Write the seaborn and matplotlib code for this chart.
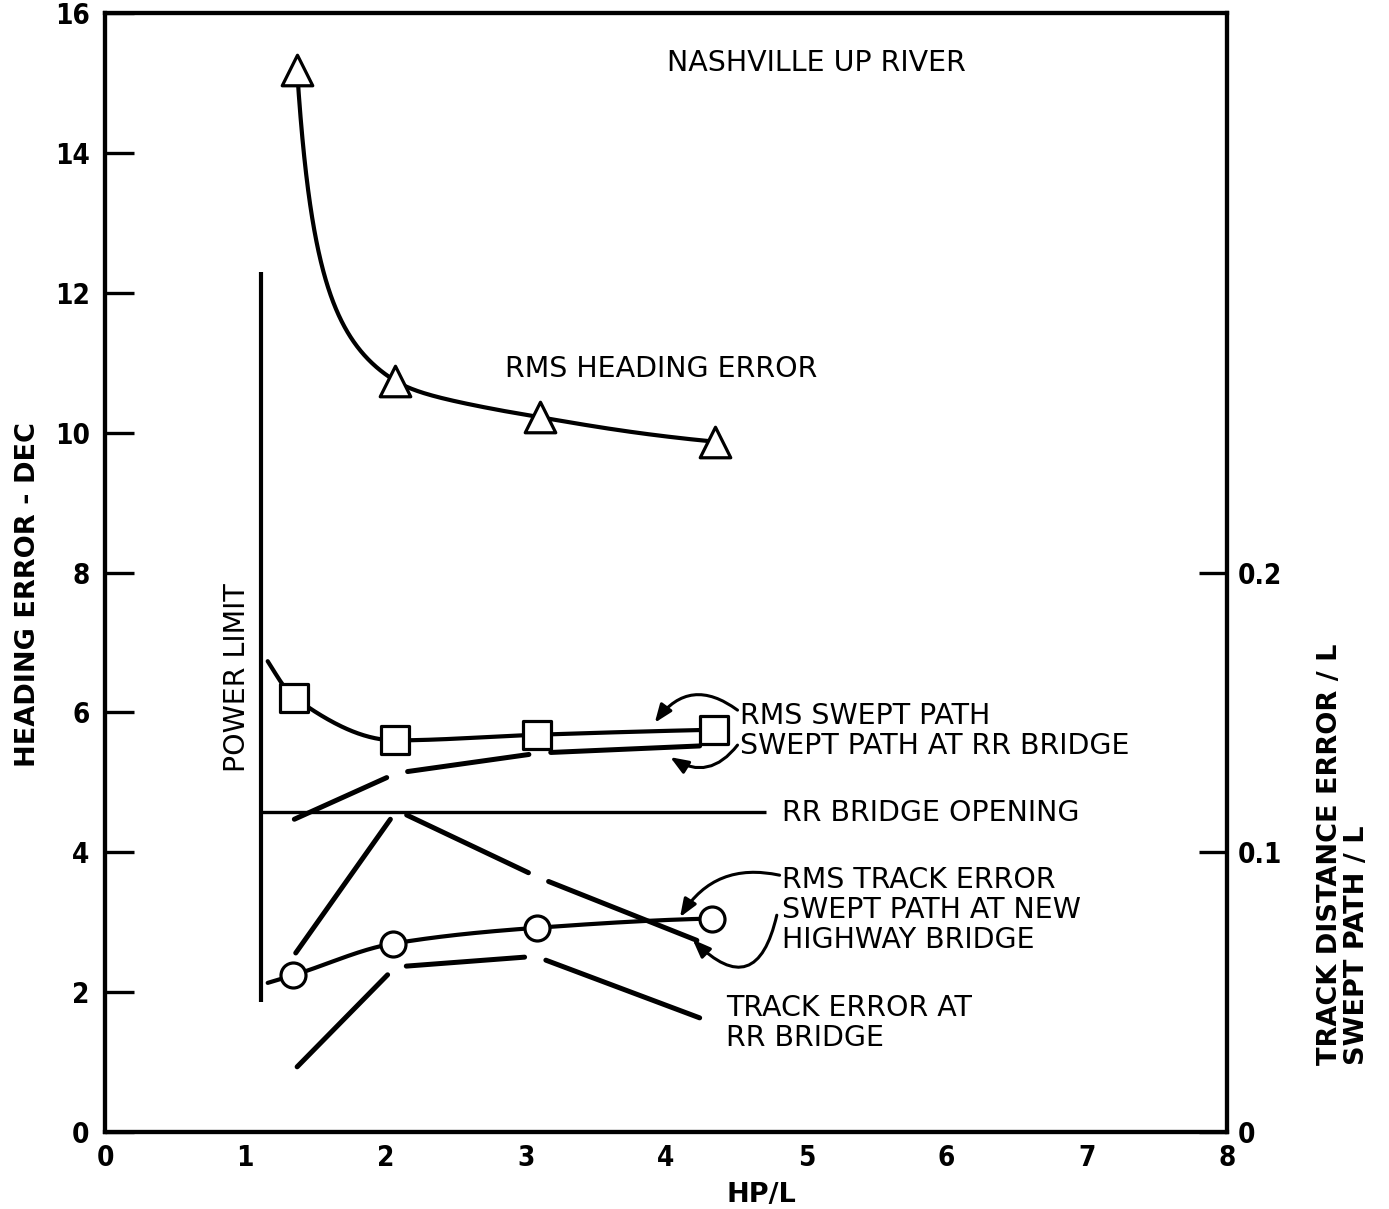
import numpy as np
import pandas as pd
import matplotlib
matplotlib.use("Agg")
import matplotlib.pyplot as plt
from matplotlib.markers import MarkerStyle
import seaborn as sns

# ---- data -------------------------------------------------------------
# RMS heading error (deg) vs horsepower per unit length
hp_heading = [1.37, 2.07, 3.10, 4.35]
rms_heading = [15.18, 10.74, 10.22, 9.87]

# RMS swept path / L (curve starts a little left of the first run)
hp_swept = [1.35, 2.07, 3.08, 4.34]
rms_swept = [0.1553, 0.1400, 0.1420, 0.1438]
swept_lead_hp, swept_lead_val = 1.16, 0.1683

# RMS track distance error / L
hp_track = [1.34, 2.05, 3.08, 4.33]
rms_track = [0.0560, 0.0673, 0.0730, 0.0763]
track_lead_hp, track_lead_val = 1.16, 0.0533

# swept path at RR bridge / L
hp_rr_swept = [1.35, 2.08, 3.10, 4.24]
rr_swept = [0.1118, 0.1283, 0.1355, 0.1380]

# swept path at new highway bridge / L
hp_hwy = [1.36, 2.08, 3.09, 4.22]
hwy_swept = [0.0640, 0.1150, 0.0910, 0.0685]

# track error at RR bridge / L
hp_rr_track = [1.37, 2.07, 3.07, 4.24]
rr_track = [0.0233, 0.0590, 0.0628, 0.0408]

# reference lines
power_limit_hp = 1.11
power_limit_span = (1.86, 12.3)        # heading-error units
rr_opening = 0.1145                    # RR bridge opening / L
rr_opening_hp_end = 4.71

x_ticks = [0, 1, 2, 3, 4, 5, 6, 7, 8]
y_ticks = [0, 2, 4, 6, 8, 10, 12, 14, 16]
y2_ticks = [0, 0.1, 0.2]
y2_ticklabels = ["0", "0.1", "0.2"]


# ---- helpers ----------------------------------------------------------
def pchip(x, y, xs):
    """Monotone piecewise cubic Hermite interpolation."""
    x = np.asarray(x, float)
    y = np.asarray(y, float)
    h = np.diff(x)
    d = np.diff(y) / h
    n = len(x)
    m = np.zeros(n)
    for k in range(1, n - 1):
        if d[k - 1] * d[k] <= 0:
            m[k] = 0.0
        else:
            w1 = 2 * h[k] + h[k - 1]
            w2 = h[k] + 2 * h[k - 1]
            m[k] = (w1 + w2) / (w1 / d[k - 1] + w2 / d[k])

    def end(h0, h1, d0, d1):
        s = ((2 * h0 + h1) * d0 - h0 * d1) / (h0 + h1)
        if np.sign(s) != np.sign(d0):
            s = 0.0
        elif np.sign(d0) != np.sign(d1) and abs(s) > abs(3 * d0):
            s = 3 * d0
        return s

    m[0] = end(h[0], h[1], d[0], d[1])
    m[-1] = end(h[-1], h[-2], d[-1], d[-2])
    xs = np.asarray(xs, float)
    idx = np.clip(np.searchsorted(x, xs) - 1, 0, n - 2)
    t = (xs - x[idx]) / h[idx]
    h00 = 1 - 3 * t**2 + 2 * t**3
    h10 = t - 2 * t**2 + t**3
    h01 = 3 * t**2 - 2 * t**3
    h11 = t**3 - t**2
    return (h00 * y[idx] + h10 * h[idx] * m[idx]
            + h01 * y[idx + 1] + h11 * h[idx] * m[idx + 1])


def smooth_curve(x, y, n=400):
    xs = np.linspace(min(x), max(x), n)
    return xs, pchip(x, y, xs)


def broken_polyline(axis, x, y, gap_px, **kw):
    """Polyline with short breaks at each interior vertex."""
    pts = axis.transData.transform(np.column_stack([x, y]))
    inv = axis.transData.inverted()
    last = len(pts) - 2
    for i in range(len(pts) - 1):
        p, q = pts[i], pts[i + 1]
        v = (q - p) / np.hypot(*(q - p))
        a = p + v * gap_px if i > 0 else p
        b = q - v * gap_px if i < last else q
        seg = inv.transform(np.vstack([a, b]))
        axis.plot(seg[:, 0], seg[:, 1], **kw)


# ---- style ------------------------------------------------------------
sns.set_theme(style="white")
plt.rcParams["font.family"] = ["DejaVu Sans"]
plt.rcParams["text.color"] = "black"
plt.rcParams["axes.labelcolor"] = "black"
plt.rcParams["axes.linewidth"] = 3.0

tick_font = dict(family=["DejaVu Sans"], stretch="condensed", weight="bold", size=20)
label_font = dict(family=["DejaVu Sans"], weight="bold", size=19.5, color="black")
note_font = dict(family=["DejaVu Sans"], size=20.5, color="black")

fig = plt.figure(figsize=(13.89, 12.09), dpi=100)
ax = fig.add_axes([105 / 1389, 77 / 1209, 1122 / 1389, 1119 / 1209])
ax2 = ax.twinx()

ax.set_xlim(0, 8)
ax.set_ylim(0, 16)
ax2.set_ylim(0, 0.4)

for a in (ax, ax2):
    for s in a.spines.values():
        s.set_linewidth(3.0)
        s.set_color("black")
    a.grid(False)

LW = 3.0
MEW = 2.3

# ---- heading error (left axis) ----------------------------------------
# smooth through the runs, interpolated against 1/(HP/L - power limit)
u = 1.0 / (np.asarray(hp_heading) - power_limit_hp)
order = np.argsort(u)
us = np.linspace(u.min(), u.max(), 600)
ys = pchip(u[order], np.asarray(rms_heading)[order], us)
xs = power_limit_hp + 1.0 / us
sns.lineplot(x=xs, y=ys, ax=ax, color="black", lw=LW, sort=False,
             estimator=None, zorder=2)
sns.scatterplot(x=hp_heading, y=rms_heading, ax=ax, marker="^", s=22**2,
                facecolor="white", edgecolor="black", linewidth=MEW, zorder=3)

# power limit
ax.vlines(power_limit_hp, *power_limit_span, color="black", lw=3.0, zorder=2)

# ---- swept path / track error (right axis) ----------------------------
xs, ys = smooth_curve([swept_lead_hp] + hp_swept, [swept_lead_val] + rms_swept)
sns.lineplot(x=xs, y=ys, ax=ax2, color="black", lw=LW, estimator=None, zorder=2)
sns.scatterplot(x=hp_swept, y=rms_swept, ax=ax2,
                marker=MarkerStyle("s", joinstyle="round"), s=20**2,
                facecolor="white", edgecolor="black", linewidth=MEW, zorder=3)

xs, ys = smooth_curve([track_lead_hp] + hp_track, [track_lead_val] + rms_track)
sns.lineplot(x=xs, y=ys, ax=ax2, color="black", lw=LW, estimator=None, zorder=2)
sns.scatterplot(x=hp_track, y=rms_track, ax=ax2, marker="o", s=18**2,
                facecolor="white", edgecolor="black", linewidth=MEW, zorder=3)

ax2.hlines(rr_opening, power_limit_hp, rr_opening_hp_end, color="black",
           lw=2.4, zorder=2)

seg_kw = dict(color="black", lw=3.6, solid_capstyle="round", zorder=2)
broken_polyline(ax2, hp_rr_swept, rr_swept, 11, **seg_kw)
broken_polyline(ax2, hp_hwy, hwy_swept, 11, **seg_kw)
broken_polyline(ax2, hp_rr_track, rr_track, 11, **seg_kw)

# ---- callout arrows ----------------------------------------------------
arrow = dict(arrowstyle="-|>,head_length=0.9,head_width=0.35", color="black",
             lw=2.2, shrinkA=0, shrinkB=0)
callouts = [((4.51, 0.1508), (3.92, 0.1463), 0.5),
            ((4.51, 0.1383), (4.03, 0.1340), -0.45),
            ((4.81, 0.0918), (4.10, 0.0768), 0.35),
            ((4.79, 0.0775), (4.19, 0.0688), -0.9)]
for tail, head, rad in callouts:
    ax2.annotate("", xy=head, xytext=tail,
                 arrowprops=dict(arrow, connectionstyle=f"arc3,rad={rad}"))

# ---- text ---------------------------------------------------------------
ax.text(4.01, 15.28, "NASHVILLE UP RIVER", ha="left", va="center", **note_font)
ax.text(2.85, 10.91, "RMS HEADING ERROR", ha="left", va="center", **note_font)
ax.text(0.94, 6.5, "POWER LIMIT", ha="center", va="center", rotation=90, **note_font)
ax.text(4.53, 5.95, "RMS SWEPT PATH", ha="left", va="center", **note_font)
ax.text(4.53, 5.52, "SWEPT PATH AT RR BRIDGE", ha="left", va="center", **note_font)
ax.text(4.83, 4.56, "RR BRIDGE OPENING", ha="left", va="center", **note_font)
ax.text(4.83, 3.60, "RMS TRACK ERROR", ha="left", va="center", **note_font)
ax.text(4.83, 3.17, "SWEPT PATH AT NEW", ha="left", va="center", **note_font)
ax.text(4.83, 2.75, "HIGHWAY BRIDGE", ha="left", va="center", **note_font)
ax.text(4.43, 1.77, "TRACK ERROR AT", ha="left", va="center", **note_font)
ax.text(4.43, 1.34, "RR BRIDGE", ha="left", va="center", **note_font)

# ---- axes, ticks, labels -----------------------------------------------
ax.set_xticks(x_ticks)
ax.set_yticks(y_ticks)
ax.set_xticklabels([str(t) for t in x_ticks], fontdict=tick_font)
ax.set_yticklabels([str(t) for t in y_ticks], fontdict=tick_font)
ax.tick_params(axis="both", direction="in", length=21, width=2.4,
               colors="black", top=False, right=False)
ax.tick_params(axis="y", pad=11)
ax.tick_params(axis="x", pad=9)

ax2.set_yticks(y2_ticks)
ax2.set_yticklabels(y2_ticklabels, fontdict=tick_font)
ax2.tick_params(axis="y", direction="in", length=20, width=2.4, colors="black", pad=8)

ax.set_xlabel("")
ax.set_ylabel("")
ax2.set_ylabel("")
ax.text(0.585, -0.056, "HP/L", transform=ax.transAxes, ha="center",
        va="center", **label_font)
ax.text(-0.0686, 0.48, "HEADING ERROR - DEC", transform=ax.transAxes,
        ha="center", va="center", rotation=90, **label_font)
ax.text(1.0918, 0.06, "TRACK DISTANCE ERROR / L", transform=ax.transAxes,
        ha="left", va="center", rotation=90, rotation_mode="anchor", **label_font)
ax.text(1.1159, 0.06, "SWEPT PATH / L", transform=ax.transAxes,
        ha="left", va="center", rotation=90, rotation_mode="anchor", **label_font)

fig.savefig("out.png", dpi=100, facecolor="white")
